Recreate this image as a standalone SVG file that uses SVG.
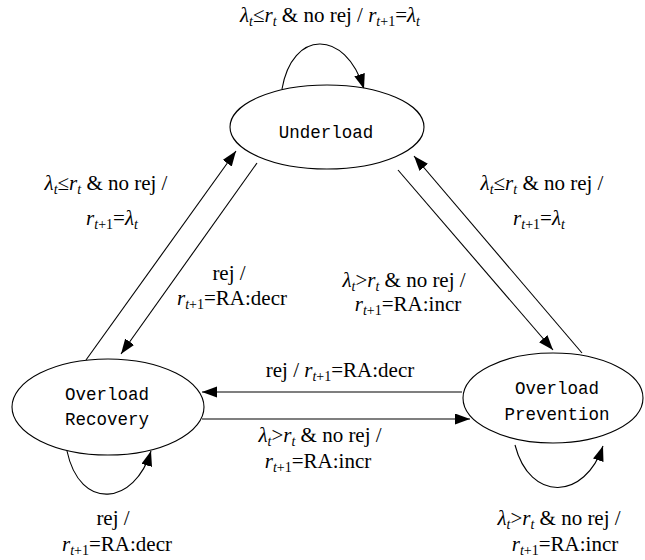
<svg xmlns="http://www.w3.org/2000/svg" width="645" height="560" viewBox="0 0 645 560">
<defs>
<marker id="ah" markerUnits="userSpaceOnUse" markerWidth="16" markerHeight="12" refX="15" refY="5.5" orient="auto">
<path d="M0,0 L15,5.5 L0,11 z" fill="#000"/>
</marker>
<style>
.node ellipse{fill:#fff;stroke:#000;stroke-width:1.1}
.node text{font-family:"Liberation Mono",monospace;font-size:17.5px;fill:#000;text-anchor:middle}
.edge{fill:none;stroke:#000;stroke-width:1.1;marker-end:url(#ah)}
.lbl{font-family:"Liberation Serif",serif;font-size:21px;fill:#000;text-anchor:middle}
.i{font-style:italic}
.s{font-size:14px;baseline-shift:-4px}
</style>
</defs>
<rect width="645" height="560" fill="#fff"/>
<g id="connectors">
<path class="edge" d="M282,89 C292,30 345,28 364,89"/>
<path class="edge" d="M86,360 L236,151"/>
<path class="edge" d="M257,163 L121,354"/>
<path class="edge" d="M398,170 L553,350"/>
<path class="edge" d="M582,353 L414,156"/>
<path class="edge" d="M462,392 L202,392"/>
<path class="edge" d="M202,419 L470,419"/>
<path class="edge" d="M67,451 C80,512 135,505 151,451"/>
<path class="edge" d="M515,445 C530,503 585,500 603,446"/>
</g>
<g id="underload" class="node">
<ellipse cx="327" cy="127" rx="97" ry="42"/>
<text x="326" y="138">Underload</text>
</g>
<g id="overload-recovery" class="node">
<ellipse cx="108" cy="407" rx="96" ry="48"/>
<text x="107" y="400">Overload</text>
<text x="107" y="425">Recovery</text>
</g>
<g id="overload-prevention" class="node">
<ellipse cx="553" cy="398" rx="90" ry="45"/>
<text x="557" y="394">Overload</text>
<text x="557" y="420">Prevention</text>
</g>
<g id="labels">
<text class="lbl" x="330" y="22"><tspan class="i">λ</tspan><tspan class="i s">t</tspan><tspan>≤</tspan><tspan class="i">r</tspan><tspan class="i s">t</tspan><tspan> &amp; no rej / </tspan><tspan class="i">r</tspan><tspan class="s"><tspan class="i">t</tspan>+1</tspan><tspan>=</tspan><tspan class="i">λ</tspan><tspan class="i s">t</tspan></text>
<text class="lbl" x="106" y="190"><tspan class="i">λ</tspan><tspan class="i s">t</tspan><tspan>≤</tspan><tspan class="i">r</tspan><tspan class="i s">t</tspan><tspan> &amp; no rej /</tspan></text>
<text class="lbl" x="112" y="225"><tspan class="i">r</tspan><tspan class="s"><tspan class="i">t</tspan>+1</tspan><tspan>=</tspan><tspan class="i">λ</tspan><tspan class="i s">t</tspan></text>
<text class="lbl" x="229" y="280">rej /</text>
<text class="lbl" x="232" y="305"><tspan class="i">r</tspan><tspan class="s"><tspan class="i">t</tspan>+1</tspan><tspan>=RA:decr</tspan></text>
<text class="lbl" x="542" y="190"><tspan class="i">λ</tspan><tspan class="i s">t</tspan><tspan>≤</tspan><tspan class="i">r</tspan><tspan class="i s">t</tspan><tspan> &amp; no rej /</tspan></text>
<text class="lbl" x="539" y="225"><tspan class="i">r</tspan><tspan class="s"><tspan class="i">t</tspan>+1</tspan><tspan>=</tspan><tspan class="i">λ</tspan><tspan class="i s">t</tspan></text>
<text class="lbl" x="404" y="287"><tspan class="i">λ</tspan><tspan class="i s">t</tspan><tspan>&gt;</tspan><tspan class="i">r</tspan><tspan class="i s">t</tspan><tspan> &amp; no rej /</tspan></text>
<text class="lbl" x="408" y="311"><tspan class="i">r</tspan><tspan class="s"><tspan class="i">t</tspan>+1</tspan><tspan>=RA:incr</tspan></text>
<text class="lbl" x="340" y="377">rej / <tspan class="i">r</tspan><tspan class="s"><tspan class="i">t</tspan>+1</tspan><tspan>=RA:decr</tspan></text>
<text class="lbl" x="320" y="442"><tspan class="i">λ</tspan><tspan class="i s">t</tspan><tspan>&gt;</tspan><tspan class="i">r</tspan><tspan class="i s">t</tspan><tspan> &amp; no rej /</tspan></text>
<text class="lbl" x="318" y="468"><tspan class="i">r</tspan><tspan class="s"><tspan class="i">t</tspan>+1</tspan><tspan>=RA:incr</tspan></text>
<text class="lbl" x="113" y="525">rej /</text>
<text class="lbl" x="117" y="551"><tspan class="i">r</tspan><tspan class="s"><tspan class="i">t</tspan>+1</tspan><tspan>=RA:decr</tspan></text>
<text class="lbl" x="559" y="525"><tspan class="i">λ</tspan><tspan class="i s">t</tspan><tspan>&gt;</tspan><tspan class="i">r</tspan><tspan class="i s">t</tspan><tspan> &amp; no rej /</tspan></text>
<text class="lbl" x="565" y="551"><tspan class="i">r</tspan><tspan class="s"><tspan class="i">t</tspan>+1</tspan><tspan>=RA:incr</tspan></text>
</g>
</svg>
